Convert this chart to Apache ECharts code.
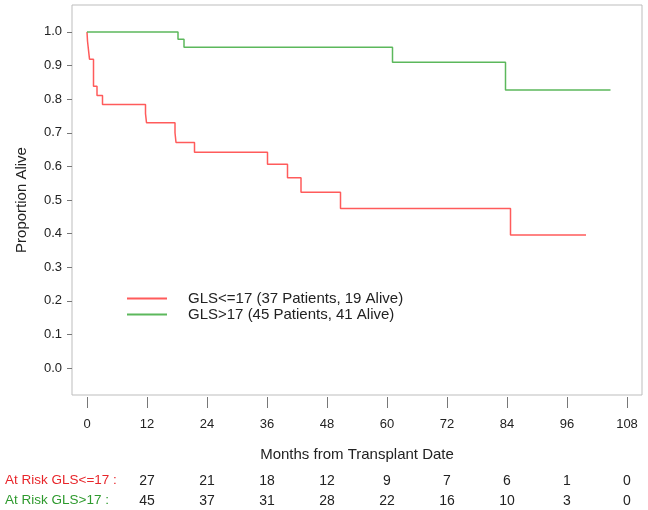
<!DOCTYPE html>
<html><head><meta charset="utf-8">
<script src="https://cdn.jsdelivr.net/npm/echarts@6/dist/echarts.min.js"></script>
<style>html,body{margin:0;padding:0;background:#fff}#c{width:648px;height:510px}</style>
</head><body><div id="c"></div>
<script>
const redTimes = [0, 0.1, 0.3, 0.5, 1.3, 2.0, 3.1, 11.7, 11.9, 17.6, 17.8, 21.5, 36.1, 40.1, 42.8, 50.7, 84.7, 99.8];
const redSurv  = [1.0, 0.973, 0.946, 0.919, 0.838, 0.811, 0.784, 0.757, 0.730, 0.700, 0.671, 0.642, 0.606, 0.566, 0.523, 0.475, 0.396, 0.396];
const greenTimes = [0, 18.2, 19.4, 61.1, 83.7, 104.7];
const greenSurv  = [1.0, 0.978, 0.954, 0.910, 0.827, 0.827];
const xTicks = [0, 12, 24, 36, 48, 60, 72, 84, 96, 108];
const yTicks = [0, 0.1, 0.2, 0.3, 0.4, 0.5, 0.6, 0.7, 0.8, 0.9, 1.0];
const riskTimes = [12, 24, 36, 48, 60, 72, 84, 96, 108];
const riskRed = [27, 21, 18, 12, 9, 7, 6, 1, 0];
const riskGreen = [45, 37, 31, 28, 22, 16, 10, 3, 0];
const redName = 'GLS<=17 (37 Patients, 19 Alive)';
const greenName = 'GLS>17 (45 Patients, 41 Alive)';

const FONT = 'Liberation Sans, Arial, sans-serif';
const RED = '#ff5b5b', GREEN = '#5cb85c', RED_T = '#e8262b', GREEN_T = '#2e9a2e';

function riskAxis(values, offset) {
  return {
    type: 'value', min: -3, max: 111, position: 'bottom', offset: offset,
    axisLine: { show: false, onZero: false }, axisTick: { show: false }, splitLine: { show: false },
    axisLabel: {
      customValues: riskTimes, margin: 0, color: '#222', fontFamily: FONT, fontSize: 14,
      formatter: v => { const i = riskTimes.indexOf(v); return i >= 0 ? String(values[i]) : ''; }
    }
  };
}

const chart = echarts.init(document.getElementById('c'));
chart.setOption({
  animation: false,
  backgroundColor: '#fff',
  grid: { left: 72, right: 6, top: 5, bottom: 115, show: true, borderColor: '#bdbdbd', borderWidth: 1 },
  legend: {
    orient: 'vertical', left: 122, top: 286, itemWidth: 40, itemHeight: 2, itemGap: 1,
    icon: 'rect',
    textStyle: { fontFamily: FONT, fontSize: 15, color: '#222', padding: [0, 0, 0, 16] },
    data: [redName, greenName]
  },
  xAxis: [{
    type: 'value', min: -3, max: 111, offset: 2,
    name: 'Months from Transplant Date', nameLocation: 'middle', nameGap: 50,
    nameTextStyle: { fontFamily: FONT, fontSize: 15, color: '#222' },
    axisLine: { show: false, onZero: false },
    axisTick: { show: true, customValues: xTicks, length: 11, lineStyle: { color: '#777' } },
    axisLabel: { customValues: xTicks, margin: 21, fontFamily: FONT, fontSize: 13, color: '#222' },
    splitLine: { show: false }
  },
  riskAxis(riskRed, 79),
  riskAxis(riskGreen, 99)
  ],
  yAxis: {
    type: 'value', min: -0.08, max: 1.08,
    name: 'Proportion Alive', nameLocation: 'middle', nameGap: 43,
    nameTextStyle: { fontFamily: FONT, fontSize: 15, color: '#222' },
    axisLine: { show: false, onZero: false },
    axisTick: { show: true, customValues: yTicks, length: 5, lineStyle: { color: '#777' } },
    axisLabel: { customValues: yTicks, margin: 10, fontFamily: FONT, fontSize: 13, color: '#222',
      formatter: v => v.toFixed(1) },
    splitLine: { show: false }
  },
  graphic: [
    { type: 'text', left: 5, top: 473, style: { text: 'At Risk GLS<=17 :', fill: RED_T, font: '13.5px ' + FONT } },
    { type: 'text', left: 5, top: 493, style: { text: 'At Risk GLS>17 :', fill: GREEN_T, font: '13.5px ' + FONT } }
  ],
  series: [
    { name: redName, type: 'line', step: 'end', symbol: 'none', color: RED,
      lineStyle: { color: RED, width: 1.5 },
      data: redTimes.map((t, i) => [t, redSurv[i]]) },
    { name: greenName, type: 'line', step: 'end', symbol: 'none', color: GREEN,
      lineStyle: { color: GREEN, width: 1.5 },
      data: greenTimes.map((t, i) => [t, greenSurv[i]]) }
  ]
});
</script></body></html>
